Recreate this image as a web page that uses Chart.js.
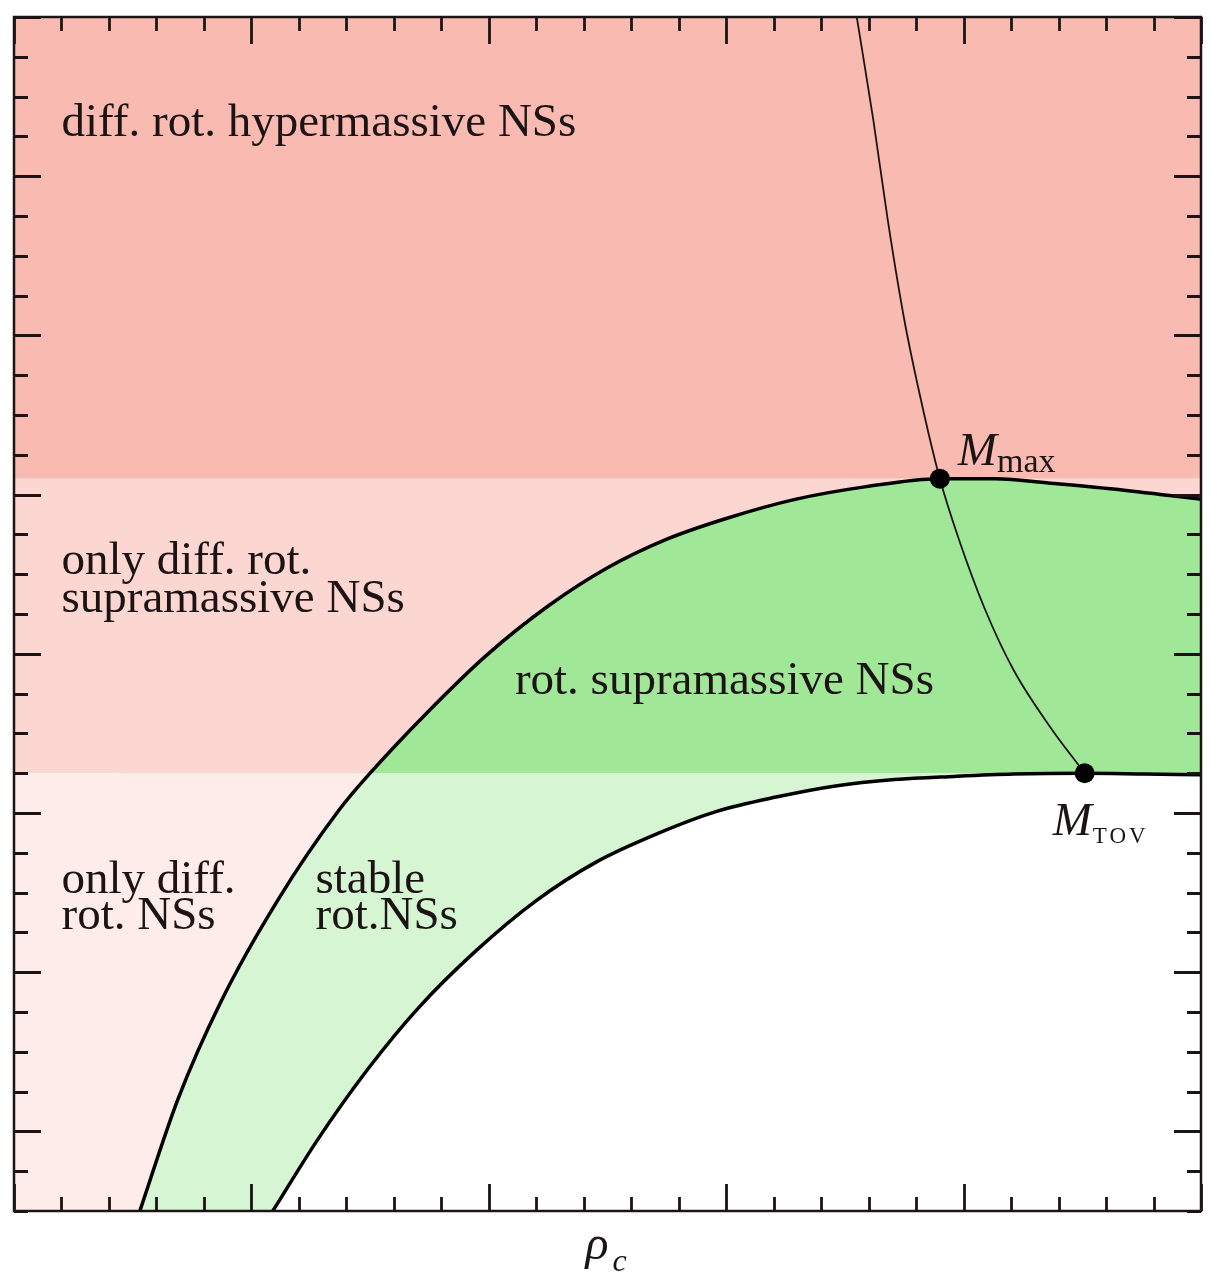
<!DOCTYPE html>
<html>
<head>
<meta charset="utf-8">
<script src="https://cdn.jsdelivr.net/npm/chart.js@4.4.1/dist/chart.umd.min.js"></script>
<style>
  html, body { margin: 0; padding: 0; background: #fff; overflow: hidden; }
  canvas { display: block; }
</style>
</head>
<body>
<canvas id="nsChart" width="1211" height="1278"></canvas>
<script>
// central density rho_c (arbitrary units) and mass M along each sequence
// mass-shedding (maximally rotating) sequence
const rhoShed  = [0.44, 0.53, 0.69, 0.87, 1.11, 1.37, 1.50, 1.74, 1.99, 2.25, 2.50, 2.75, 3.00, 3.29, 3.59, 3.90, 4.13, 4.38, 4.63, 5.00];
const massShed = [-0.90, -0.50, 0.20, 0.81, 1.45, 2.02, 2.25, 2.63, 2.99, 3.30, 3.54, 3.72, 3.85, 3.97, 4.05, 4.10, 4.10, 4.07, 4.035, 3.97];
// non-rotating (TOV) sequence
const rhoTov  = [0.44, 1.09, 1.28, 1.49, 1.70, 1.95, 2.20, 2.45, 2.71, 2.96, 3.21, 3.46, 3.71, 3.96, 4.21, 4.51, 4.76, 5.00];
const massTov = [-2.03, -0.50, -0.05, 0.39, 0.77, 1.14, 1.45, 1.69, 1.87, 2.01, 2.10, 2.17, 2.21, 2.23, 2.245, 2.25, 2.245, 2.24];
// turning-point line (onset of instability)
const rhoTurn  = [3.55, 3.62, 3.68, 3.75, 3.83, 3.90, 3.98, 4.09, 4.21, 4.36, 4.51];
const massTurn = [7.00, 6.35, 5.73, 5.10, 4.53, 4.10, 3.72, 3.28, 2.90, 2.55, 2.25];

const M_MAX = 4.10, RHO_MMAX = 3.90;
const M_TOV = 2.25, RHO_MTOV = 4.51;
const M_TOP = 7;

const xRange = [0, 5];
const yRange = [-0.5, 7];
const xStep = 0.2, yStep = 0.25;

const regionLabels = [
  { text: 'diff. rot. hypermassive NSs', x: 0.20, y: 6.25 },
  { text: 'only diff. rot.', x: 0.20, y: 3.50 },
  { text: 'supramassive NSs', x: 0.20, y: 3.26 },
  { text: 'rot. supramassive NSs', x: 2.11, y: 2.75 },
  { text: 'only diff.', x: 0.20, y: 1.50 },
  { text: 'rot. NSs', x: 0.20, y: 1.27 },
  { text: 'stable', x: 1.27, y: 1.50 },
  { text: 'rot.NSs', x: 1.27, y: 1.27 }
];

const SALMON = 'rgb(248, 186, 177)';
const PINK = 'rgb(252, 214, 209)';
const PALE_PINK = 'rgb(253, 236, 233)';
const GREEN = 'rgb(160, 231, 152)';
const PALE_GREEN = 'rgb(214, 245, 210)';
const INK = '#1c1414';

const pts = (xs, ys) => xs.map((x, i) => ({ x: x, y: ys[i] }));
const band = (m) => pts([xRange[0], xRange[1]], [m, m]);

// tick values of a scale; falls back to stepping the range if the scale has none
function tickValues(scale, step) {
  if (scale.ticks && scale.ticks.length) return scale.ticks.map(t => t.value);
  const out = [];
  for (let v = scale.min; v <= scale.max + 1e-9; v += step) out.push(v);
  return out;
}

// ticks pointing inwards on all four sides, plus the frame and annotations
const framePlugin = {
  id: 'frameAndLabels',
  beforeDraw(chart) {
    const ctx = chart.ctx;
    ctx.save();
    ctx.fillStyle = '#fff';
    ctx.fillRect(0, 0, chart.width, chart.height);
    ctx.restore();
  },
  afterDatasetsDraw(chart) {
    const { ctx, chartArea: a, scales: { x, y } } = chart;
    const isMajor = v => Math.abs(v - Math.round(v)) < 1e-6;

    ctx.save();
    ctx.font = '47px "Liberation Serif"';
    ctx.fillStyle = INK;
    ctx.textBaseline = 'alphabetic';
    regionLabels.forEach(l => {
      ctx.fillText(l.text, x.getPixelForValue(l.x), y.getPixelForValue(l.y));
    });

    // M_max label
    let px = x.getPixelForValue(RHO_MMAX) + 18;
    let py = y.getPixelForValue(M_MAX) - 14;
    ctx.font = 'italic 47px "Liberation Serif"';
    ctx.fillText('M', px, py);
    px += ctx.measureText('M').width;
    ctx.font = '34px "Liberation Serif"';
    ctx.fillText('max', px, py + 7);

    // M_TOV label
    px = x.getPixelForValue(RHO_MTOV) - 32;
    py = y.getPixelForValue(M_TOV) + 62;
    ctx.font = 'italic 47px "Liberation Serif"';
    ctx.fillText('M', px, py);
    px += ctx.measureText('M').width + 1;
    ctx.font = '23px "Liberation Serif"';
    ctx.letterSpacing = '3px';
    ctx.fillText('TOV', px, py + 8);
    ctx.letterSpacing = '0px';

    // axis title rho_c
    ctx.font = 'italic 48px "Liberation Serif"';
    const cx = (a.left + a.right) / 2 - 22;
    ctx.fillText('\u03C1', cx, a.bottom + 48);
    ctx.font = 'italic 32px "Liberation Serif"';
    ctx.fillText('c', cx + 27, a.bottom + 60);

    // ticks
    ctx.strokeStyle = INK;
    ctx.lineWidth = 2.8;
    ctx.beginPath();
    tickValues(x, xStep).forEach(v => {
      const p = Math.round(x.getPixelForValue(v)) + 0.5;
      const len = isMajor(v) ? 27 : 14;
      ctx.moveTo(p, a.bottom); ctx.lineTo(p, a.bottom - len);
      ctx.moveTo(p, a.top); ctx.lineTo(p, a.top + len);
    });
    tickValues(y, yStep).forEach(v => {
      const p = Math.round(y.getPixelForValue(v)) + 0.5;
      const len = isMajor(v) ? 27 : 14;
      ctx.moveTo(a.left, p); ctx.lineTo(a.left + len, p);
      ctx.moveTo(a.right, p); ctx.lineTo(a.right - len, p);
    });
    ctx.stroke();

    // frame
    ctx.lineWidth = 2.5;
    ctx.strokeRect(a.left, a.top, a.right - a.left, a.bottom - a.top);
    ctx.restore();
  }
};

const curve = { pointRadius: 0, cubicInterpolationMode: 'monotone' };

new Chart(document.getElementById('nsChart').getContext('2d'), {
  type: 'line',
  data: {
    datasets: [
      {
        label: 'M_max, M_TOV',
        data: pts([RHO_MMAX, RHO_MTOV], [M_MAX, M_TOV]),
        showLine: false,
        pointRadius: 10,
        pointBackgroundColor: '#000',
        pointBorderWidth: 0,
        fill: false
      },
      Object.assign({
        label: 'turning points',
        data: pts(rhoTurn, massTurn),
        borderColor: INK,
        borderWidth: 1.8,
        fill: false
      }, curve),
      Object.assign({
        label: 'mass shedding',
        data: pts(rhoShed, massShed),
        borderColor: '#000',
        borderWidth: 3.5,
        fill: { target: { value: M_TOV }, above: GREEN, below: 'rgba(0,0,0,0)' }
      }, curve),
      Object.assign({
        label: 'TOV',
        data: pts(rhoTov, massTov),
        borderColor: '#000',
        borderWidth: 3.5,
        backgroundColor: '#fff',
        fill: 'start'
      }, curve),
      Object.assign({
        label: 'stable rot. NSs',
        data: pts(rhoShed, massShed),
        borderWidth: 0,
        backgroundColor: PALE_GREEN,
        fill: 3
      }, curve),
      {
        label: 'only diff. rot.',
        data: band(M_TOV),
        borderWidth: 0, pointRadius: 0,
        backgroundColor: PALE_PINK,
        fill: 'start'
      },
      {
        label: 'only diff. rot. supramassive',
        data: band(M_MAX),
        borderWidth: 0, pointRadius: 0,
        backgroundColor: PINK,
        fill: { value: M_TOV }
      },
      {
        label: 'hypermassive',
        data: band(M_TOP),
        borderWidth: 0, pointRadius: 0,
        backgroundColor: SALMON,
        fill: { value: M_MAX }
      }
    ]
  },
  options: {
    responsive: false,
    animation: false,
    layout: { padding: { left: 14, right: 3, top: 17, bottom: 67 } },
    scales: {
      x: {
        type: 'linear',
        display: false,
        min: xRange[0], max: xRange[1],
        ticks: { stepSize: xStep }
      },
      y: {
        type: 'linear',
        display: false,
        min: yRange[0], max: yRange[1],
        ticks: { stepSize: yStep }
      }
    },
    plugins: {
      legend: { display: false },
      tooltip: { enabled: false },
      filler: { drawTime: 'beforeDatasetsDraw', propagate: false }
    }
  },
  plugins: [framePlugin]
});
</script>
</body>
</html>
